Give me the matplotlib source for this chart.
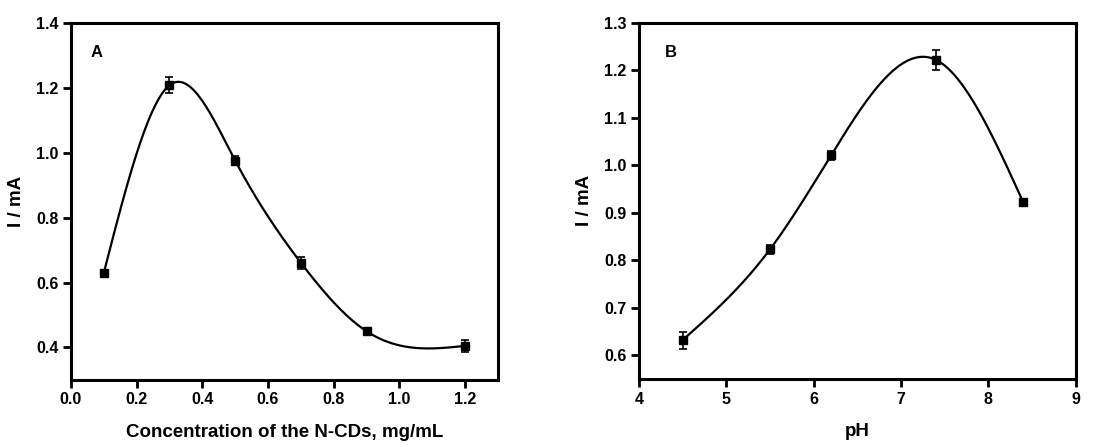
import numpy as np
import matplotlib
matplotlib.use("Agg")
import matplotlib.pyplot as plt

plt.rcParams['font.family'] = ['Liberation Sans', 'DejaVu Sans']
plt.rcParams['font.weight'] = 'bold'

# Panel A data
conc = [0.1, 0.3, 0.5, 0.7, 0.9, 1.2]
conc_I = [0.630, 1.208, 0.976, 0.661, 0.450, 0.405]
conc_err = [0.010, 0.025, 0.015, 0.018, 0.008, 0.018]

# Panel B data
ph = [4.5, 5.5, 6.2, 7.4, 8.4]
ph_I = [0.632, 0.823, 1.021, 1.222, 0.922]
ph_err = [0.018, 0.010, 0.010, 0.021, 0.008]


def natural_spline(x, y, n=400):
    x = np.asarray(x, float); y = np.asarray(y, float)
    k = len(x)
    h = np.diff(x)
    A = np.zeros((k, k)); b = np.zeros(k)
    A[0, 0] = 1; A[-1, -1] = 1
    for i in range(1, k - 1):
        A[i, i - 1] = h[i - 1]
        A[i, i] = 2 * (h[i - 1] + h[i])
        A[i, i + 1] = h[i]
        b[i] = 3 * ((y[i + 1] - y[i]) / h[i] - (y[i] - y[i - 1]) / h[i - 1])
    c = np.linalg.solve(A, b)
    bb = np.zeros(k - 1); d = np.zeros(k - 1)
    for i in range(k - 1):
        bb[i] = (y[i + 1] - y[i]) / h[i] - h[i] * (2 * c[i] + c[i + 1]) / 3
        d[i] = (c[i + 1] - c[i]) / (3 * h[i])
    xs = np.linspace(x[0], x[-1], n)
    idx = np.clip(np.searchsorted(x, xs) - 1, 0, k - 2)
    dx = xs - x[idx]
    ys = y[idx] + bb[idx] * dx + c[idx] * dx ** 2 + d[idx] * dx ** 3
    return xs, ys


fig = plt.figure(figsize=(11.07, 4.47), dpi=100)
axA = fig.add_axes([0.0641, 0.150, 0.3857, 0.7987])
axB = fig.add_axes([0.5772, 0.152, 0.3945, 0.797])


def style(ax):
    for s in ax.spines.values():
        s.set_linewidth(2.2)
    ax.tick_params(direction='out', length=6, width=2, labelsize=11.5, pad=3,
                   top=False, right=False)
    for lab in ax.get_xticklabels() + ax.get_yticklabels():
        lab.set_fontweight('bold')


# Panel A
xs, ys = natural_spline(conc, conc_I)
axA.plot(xs, ys, color='black', lw=1.6)
axA.errorbar(conc, conc_I, yerr=conc_err, fmt='s', color='black', ms=6,
             capsize=3, elinewidth=1.2, capthick=1.2)
axA.set_xlim(0, 1.3)
axA.set_ylim(0.3, 1.4)
axA.set_xticks([0.0, 0.2, 0.4, 0.6, 0.8, 1.0, 1.2])
axA.set_yticks([0.4, 0.6, 0.8, 1.0, 1.2, 1.4])
axA.xaxis.set_major_formatter(matplotlib.ticker.FormatStrFormatter('%.1f'))
axA.yaxis.set_major_formatter(matplotlib.ticker.FormatStrFormatter('%.1f'))
axA.set_xlabel('Concentration of the N-CDs, mg/mL', fontsize=13.5, fontweight='bold', labelpad=12)
axA.set_ylabel('I / mA', fontsize=13.5, fontweight='bold', labelpad=8)
axA.text(0.079, 1.31, 'A', fontsize=12, fontweight='bold', ha='center', va='center')
style(axA)

# Panel B
xs, ys = natural_spline(ph, ph_I)
axB.plot(xs, ys, color='black', lw=1.6)
axB.errorbar(ph, ph_I, yerr=ph_err, fmt='s', color='black', ms=6,
             capsize=3, elinewidth=1.2, capthick=1.2)
axB.set_xlim(4, 9)
axB.set_ylim(0.55, 1.3)
axB.set_xticks([4, 5, 6, 7, 8, 9])
axB.set_yticks([0.6, 0.7, 0.8, 0.9, 1.0, 1.1, 1.2, 1.3])
axB.yaxis.set_major_formatter(matplotlib.ticker.FormatStrFormatter('%.1f'))
axB.set_xlabel('pH', fontsize=13.5, fontweight='bold', labelpad=12)
axB.set_ylabel('I / mA', fontsize=13.5, fontweight='bold', labelpad=8)
axB.text(4.37, 1.238, 'B', fontsize=12, fontweight='bold', ha='center', va='center')
style(axB)

fig.savefig('out.png', dpi=100)
